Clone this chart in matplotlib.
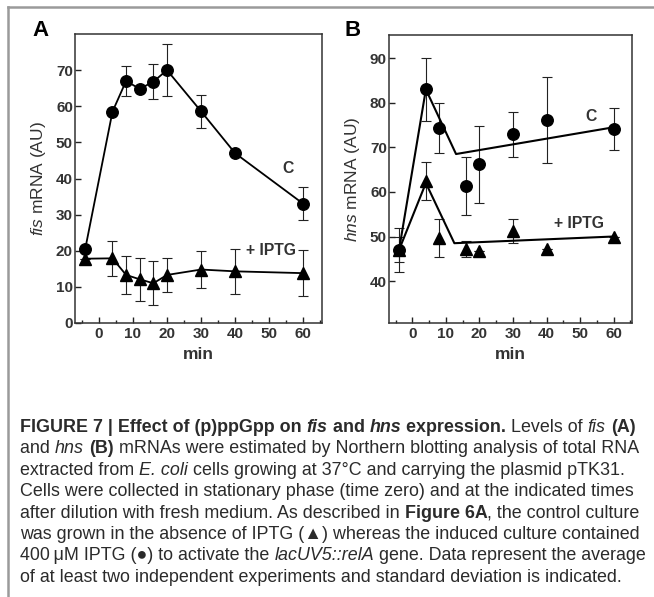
import matplotlib
matplotlib.use("Agg")
import matplotlib.pyplot as plt
from matplotlib.ticker import MultipleLocator
from matplotlib.lines import Line2D

plt.rcParams['font.family'] = ['Liberation Sans', 'DejaVu Sans']
plt.rcParams['mathtext.fontset'] = 'custom'
plt.rcParams['mathtext.it'] = 'Liberation Sans:italic'
plt.rcParams['mathtext.rm'] = 'Liberation Sans'

# Panel A: fis mRNA
a_t_c = [-4, 4, 8, 12, 16, 20, 30, 40, 60]
a_c = [20.5, 58.5, 67, 64.8, 66.8, 70, 58.6, 47, 33]
a_c_err = [0, 0, 4.1, 0, 4.9, 7.2, 4.6, 0, 4.6]
a_t_i = [-4, 4, 8, 12, 16, 20, 30, 40, 60]
a_i = [17.8, 17.9, 13.3, 12.1, 11.0, 13.3, 14.8, 14.3, 13.8]
a_i_err = [0, 4.8, 5.3, 6.0, 6.1, 4.7, 5.0, 6.2, 6.4]

# Panel B: hns mRNA
b_t_c = [-4, 4, 8, 16, 20, 30, 40, 60]
b_c = [47, 83, 74.4, 61.4, 66.2, 72.9, 76.2, 74.1]
b_c_err = [5, 7, 5.6, 6.5, 8.6, 5.0, 9.6, 4.7]
b_t_i = [-4, 4, 8, 16, 20, 30, 40, 60]
b_i = [47, 62.5, 49.6, 47.3, 46.8, 51.2, 47.3, 50]
b_i_err = [2.8, 4.3, 4.3, 1.8, 0, 2.7, 0, 0]
# fitted lines drawn in panel B
b_fit_c_t = [-4, 4, 13, 60]
b_fit_c = [47, 83, 68.5, 74.5]
b_fit_i_t = [-4, 4, 12.5, 60]
b_fit_i = [47, 62, 48.5, 50]

fig = plt.figure(figsize=(6.54, 5.97), dpi=100)

# frame lines around the figure box
fig.add_artist(Line2D([7.5/654, 1], [1-6.5/597]*2, color='#9a9a9a', lw=1.8))
fig.add_artist(Line2D([7.5/654]*2, [1-6.5/597, 0], color='#9a9a9a', lw=1.8))

axA = fig.add_axes([75/654, 1-323/597, 247/654, 289/597])
axB = fig.add_axes([389/654, 1-323/597, 243/654, 288/597])

ms = dict(color='black', lw=1.3, markersize=8.3, elinewidth=0.8, capsize=3.5,
          ecolor='#222222', capthick=0.8)

axA.errorbar(a_t_c, a_c, yerr=a_c_err, marker='o', **ms)
axA.errorbar(a_t_i, a_i, yerr=a_i_err, marker='^', **ms)

axB.errorbar(b_t_c, b_c, yerr=b_c_err, marker='o', ls='none', **ms)
axB.errorbar(b_t_i, b_i, yerr=b_i_err, marker='^', ls='none', **ms)
axB.plot(b_fit_c_t, b_fit_c, color='black', lw=1.5)
axB.plot(b_fit_i_t, b_fit_i, color='black', lw=1.5)

axA.set_ylim(0, 80)
axA.set_yticks(range(0, 71, 10))
axB.set_ylim(30.6, 95.2)
axB.set_yticks(range(40, 91, 10))

for ax in (axA, axB):
    ax.set_xlim(-7, 65.5)
    ax.xaxis.set_major_locator(MultipleLocator(10))
    ax.xaxis.set_minor_locator(MultipleLocator(5))
    ax.tick_params(which='both', direction='in', color='#222222', width=1.0)
    ax.tick_params(which='major', length=4, pad=3)
    ax.tick_params(which='minor', length=2.5)
    ax.tick_params(axis='y', pad=1.5)
    for lab in ax.get_xticklabels() + ax.get_yticklabels():
        lab.set_fontsize(11)
        lab.set_fontweight('bold')
        lab.set_color('#333333')
    for sp in ax.spines.values():
        sp.set_linewidth(1.1)
        sp.set_color('#333333')
    ax.set_xlabel('min', fontsize=12.5, fontweight='bold', color='#333333', labelpad=4)

axA.set_ylabel(r'$\mathit{fis}$ mRNA (AU)', fontsize=12.5, color='#333333', labelpad=6)
axB.set_ylabel(r'$\mathit{hns}$ mRNA (AU)', fontsize=12.5, color='#333333', labelpad=6)

txt = dict(fontsize=11.3, fontweight='bold', color='#333333', ha='center', va='center')
axA.text(55.5, 42.8, 'C', **txt)
axA.text(50.4, 20.2, '+ IPTG', **txt)
axB.text(53.3, 76.9, 'C', **txt)
axB.text(49.8, 52.9, '+ IPTG', **txt)

fig.text(32/654, 1-31/597, 'A', fontsize=16, fontweight='bold', va='center')
fig.text(345/654, 1-30/597, 'B', fontsize=16, fontweight='bold', va='center')

# caption, drawn run by run so bold/italic parts can mix
cap_lines = [
    [("FIGURE 7 | Effect of (p)ppGpp on ", 'b'), ("fis", 'bi'), (" and ", 'b'), ("hns", 'bi'),
     (" expression.", 'b'), (" Levels of ", 'n'), ("fis", 'i'), (" ", 'n'), ("(A)", 'b')],
    [("and ", 'n'), ("hns", 'i'), (" ", 'n'), ("(B)", 'b'),
     (" mRNAs were estimated by Northern blotting analysis of total RNA", 'n')],
    [("extracted from ", 'n'), ("E. coli", 'i'),
     (" cells growing at 37\u00b0C and carrying the plasmid pTK31.", 'n')],
    [("Cells were collected in stationary phase (time zero) and at the indicated times", 'n')],
    [("after dilution with fresh medium. As described in ", 'n'), ("Figure 6A", 'b'),
     (", the control culture", 'n')],
    [("was grown in the absence of IPTG (\u25b2) whereas the induced culture contained", 'n')],
    [("400\u2009\u03bcM IPTG (\u25cf) to activate the ", 'n'), ("lacUV5::relA", 'i'),
     (" gene. Data represent the average", 'n')],
    [("of at least two independent experiments and standard deviation is indicated.", 'n')],
]

renderer = fig.canvas.get_renderer()
cap_size = 12.9
W = 654.0


def run_width(s, style):
    kw = dict(fontsize=cap_size, fontweight='bold' if 'b' in style else 'normal',
              fontstyle='italic' if 'i' in style else 'normal')
    t1 = fig.text(0, 0, '|' + s + '|', **kw)
    t2 = fig.text(0, 0, '||', **kw)
    w = t1.get_window_extent(renderer).width - t2.get_window_extent(renderer).width
    t1.remove()
    t2.remove()
    return w


y0 = 432
dy = 21.4
for k, line in enumerate(cap_lines):
    x = 20.0
    y = 1 - (y0 + k * dy) / 597
    for s, style in line:
        fig.text(x / W, y, s, fontsize=cap_size, color='#2b2b2b', va='baseline',
                 fontweight='bold' if 'b' in style else 'normal',
                 fontstyle='italic' if 'i' in style else 'normal')
        x += run_width(s, style)

fig.savefig('out.png', dpi=100)
